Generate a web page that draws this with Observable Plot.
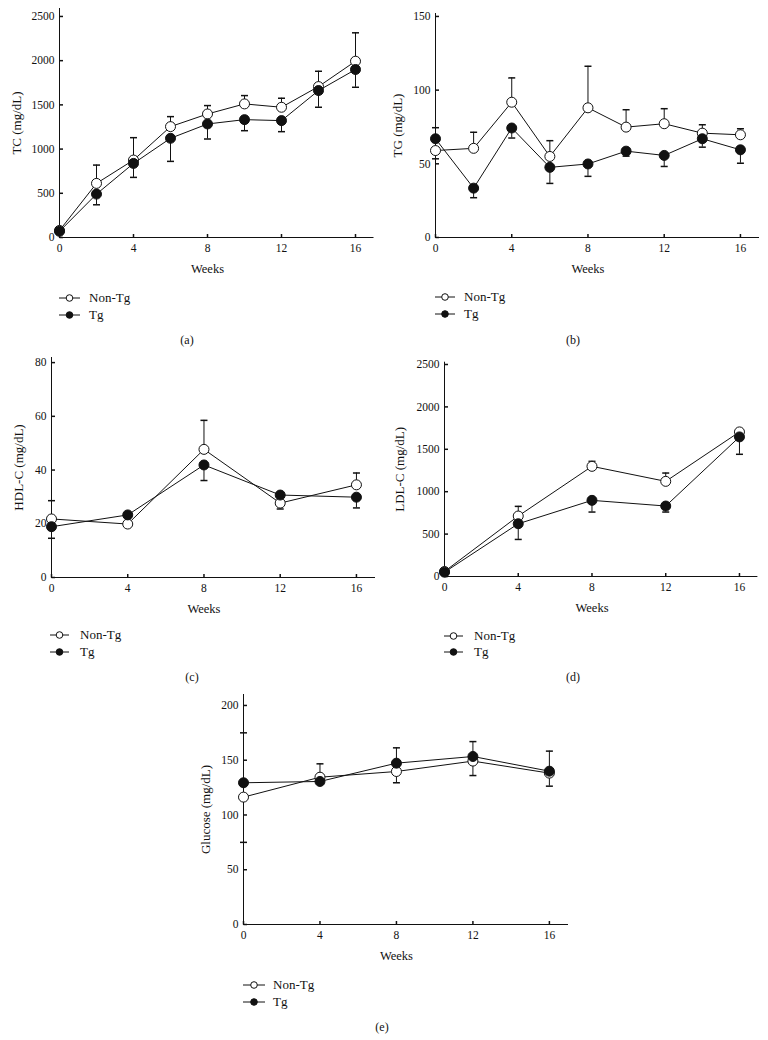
<!DOCTYPE html>
<html><head><meta charset="utf-8">
<script src="https://cdn.jsdelivr.net/npm/d3@7"></script>
<script src="https://cdn.jsdelivr.net/npm/@observablehq/plot@0.6"></script>
<style>
body{margin:0;background:#fff;}
#root{position:relative;width:768px;height:1040px;background:#fff;font-family:'Liberation Serif','Times New Roman',serif;color:#111;overflow:hidden;}
.leg{position:absolute;font-size:13px;white-space:nowrap;line-height:16px;}
.cap{position:absolute;font-size:12px;transform:translate(-50%,-50%);white-space:nowrap;}
</style></head><body><div id="root"></div><script>
// ---- data ----
const weeksTC = [0, 2, 4, 6, 8, 10, 12, 14, 16];
const weeks4 = [0, 4, 8, 12, 16];
const xTicks = [0, 4, 8, 12, 16];
const groups = ["Non-Tg", "Tg"];

const tcTicks = [0, 500, 1000, 1500, 2000, 2500];
const tcNonTg = [80, 612, 876, 1254, 1397, 1511, 1473, 1707, 1994];
const tcNonTgBar = [null, 819, 1129, 1367, 1492, 1605, 1575, 1880, 2315];
const tcTg = [70, 491, 838, 1122, 1284, 1333, 1322, 1662, 1900];
const tcTgBar = [null, 370, 680, 861, 1114, 1208, 1197, 1473, 1699];

const tgTicks = [0, 50, 100, 150];
const tgNonTg = [59, 60.5, 91.8, 55, 88, 74.9, 77.2, 70.8, 69.7];
const tgNonTgBar = [53.4, 71.4, 108.3, 65.7, 116.2, 86.7, 87.4, 76.5, 73.8];
const tgTg = [67, 33.5, 74.3, 47.6, 49.9, 58.6, 55.7, 67, 59.5];
const tgTgBar = [74.5, 27, 67.5, 36.7, 41.5, 55.2, 48.2, 61.3, 50.4];

const hdlTicks = [0, 20, 40, 60, 80];
const hdlNonTg = [21.8, 19.9, 47.7, 27.7, 34.5];
const hdlNonTgBar = [28.6, null, 58.5, null, 38.9];
const hdlTg = [18.9, 23.3, 41.9, 30.7, 29.9];
const hdlTgBar = [14.6, null, 36.1, 25.5, 25.9];

const ldlTicks = [0, 500, 1000, 1500, 2000, 2500];
const ldlNonTg = [59, 713, 1299, 1122, 1705];
const ldlNonTgBar = [null, 827, 1358, 1220, null];
const ldlTg = [51, 622, 898, 831, 1646];
const ldlTgBar = [null, 437, 760, 760, 1441];

const gluTicks = [0, 50, 100, 150, 200];
const gluNonTg = [116.3, 134.5, 139.7, 149.2, 138.2];
const gluNonTgBar = [75, 146.7, 129.4, 136, 126.3];
const gluTg = [129.4, 130.6, 147.3, 153.4, 140];
const gluTgBar = [175, null, 161.3, 167, 158.3];

// ---- drawing ----
const root = document.getElementById("root");
const ink = "#111";
const capSym = {draw(ctx) { ctx.moveTo(-3.5, 0); ctx.lineTo(3.5, 0); }};
const yTickSym = {draw(ctx) { ctx.moveTo(0, 0); ctx.lineTo(3.5, 0); }};
const xTickSym = {draw(ctx) { ctx.moveTo(0, 0); ctx.lineTo(0, -3.5); }};

function panel(c) {
  const rowsN = c.weeks.map((w, i) => ({week: w, value: c.nonTg[i], bar: c.nonTgBar[i], group: groups[0]}));
  const rowsT = c.weeks.map((w, i) => ({week: w, value: c.tg[i], bar: c.tgBar[i], group: groups[1]}));
  const barsN = rowsN.filter(d => d.bar != null);
  const barsT = rowsT.filter(d => d.bar != null);
  const svg = Plot.plot({
    width: c.width, height: c.height,
    marginLeft: c.ml, marginRight: c.mr, marginTop: c.mt, marginBottom: c.mb,
    x: {domain: [0, 17]},
    y: {domain: [0, c.yMax]},
    style: {fontFamily: "'Liberation Serif','Times New Roman',serif", fontSize: "11.5px", color: ink, background: "transparent", overflow: "visible"},
    marks: [
      Plot.ruleX([0], {stroke: ink}),
      Plot.ruleY([0], {stroke: ink}),
      Plot.dot(c.yTicks, {x: 0, y: d => d, symbol: yTickSym, stroke: ink, fill: "none"}),
      Plot.dot(xTicks, {x: d => d, y: 0, symbol: xTickSym, stroke: ink, fill: "none"}),
      Plot.axisY({ticks: c.yTicks, tickSize: 0, tickPadding: 5, label: null, tickFormat: "d"}),
      Plot.axisX({ticks: xTicks, tickSize: 0, tickPadding: 6, label: null, tickFormat: "d"}),
      Plot.text([c.label], {frameAnchor: "left", rotate: -90, dx: c.labelDx, textAnchor: "middle", lineAnchor: "middle", fontSize: 13}),
      Plot.text(["Weeks"], {x: d3.mean(d3.extent(c.weeks)), frameAnchor: "bottom", dy: 31, textAnchor: "middle", lineAnchor: "middle", fontSize: 12.5}),
      Plot.line(rowsN, {x: "week", y: "value", stroke: ink, strokeWidth: 1}),
      Plot.line(rowsT, {x: "week", y: "value", stroke: ink, strokeWidth: 1}),
      Plot.ruleX(barsN, {x: "week", y1: "value", y2: "bar", stroke: ink}),
      Plot.dot(barsN, {x: "week", y: "bar", symbol: capSym, stroke: ink, fill: "none"}),
      Plot.ruleX(barsT, {x: "week", y1: "value", y2: "bar", stroke: ink}),
      Plot.dot(barsT, {x: "week", y: "bar", symbol: capSym, stroke: ink, fill: "none"}),
      Plot.dot(rowsN, {x: "week", y: "value", r: 5, fill: "white", stroke: ink, strokeWidth: 1}),
      Plot.dot(rowsT, {x: "week", y: "value", r: 5, fill: ink, stroke: ink, strokeWidth: 1})
    ]
  });
  svg.style.position = "absolute";
  svg.style.left = c.left + "px";
  svg.style.top = c.top + "px";
  root.appendChild(svg);

  // legend
  groups.forEach((g, i) => {
    const y = c.legY[i];
    const s = document.createElementNS("http://www.w3.org/2000/svg", "svg");
    const w = c.legLine[1] - c.legLine[0] + 2;
    s.setAttribute("width", w); s.setAttribute("height", 10);
    s.style.position = "absolute";
    s.style.left = (c.legLine[0] - 1) + "px";
    s.style.top = (y - 5) + "px";
    s.innerHTML = `<line x1="1" x2="${w - 1}" y1="5" y2="5" stroke="${ink}" stroke-width="1"/>` +
      `<circle cx="${w / 2}" cy="5" r="3.3" fill="${i === 0 ? "white" : ink}" stroke="${ink}" stroke-width="1"/>`;
    root.appendChild(s);
    const t = document.createElement("div");
    t.className = "leg";
    t.textContent = g;
    t.style.left = c.legText + "px";
    t.style.top = (y - 8) + "px";
    root.appendChild(t);
  });
  const cap = document.createElement("div");
  cap.className = "cap";
  cap.textContent = c.caption;
  cap.style.left = c.capXY[0] + "px";
  cap.style.top = c.capXY[1] + "px";
  root.appendChild(cap);
}

panel({left: 0, top: 0, width: 384, height: 280, ml: 59, mr: 10.5, mt: 8, mb: 43, yMax: 2590,
  yTicks: tcTicks, label: "TC (mg/dL)", labelDx: -43, weeks: weeksTC,
  nonTg: tcNonTg, nonTgBar: tcNonTgBar, tg: tcTg, tgBar: tcTgBar,
  legLine: [59, 80], legText: 89, legY: [298, 315], caption: "(a)", capXY: [187, 340]});

panel({left: 384, top: 0, width: 384, height: 280, ml: 51, mr: 9, mt: 13, mb: 43, yMax: 152,
  yTicks: tgTicks, label: "TG (mg/dL)", labelDx: -38, weeks: weeksTC,
  nonTg: tgNonTg, nonTgBar: tgNonTgBar, tg: tgTg, tgBar: tgTgBar,
  legLine: [435, 455], legText: 464, legY: [297, 314], caption: "(b)", capXY: [573, 340]});

panel({left: 0, top: 330, width: 384, height: 290, ml: 51, mr: 9, mt: 27, mb: 43, yMax: 81.9,
  yTicks: hdlTicks, label: "HDL-C (mg/dL)", labelDx: -33, weeks: weeks4,
  nonTg: hdlNonTg, nonTgBar: hdlNonTgBar, tg: hdlTg, tgBar: hdlTgBar,
  legLine: [50, 69], legText: 80, legY: [635, 652], caption: "(c)", capXY: [192, 677]});

panel({left: 384, top: 330, width: 384, height: 289, ml: 60, mr: 10.6, mt: 31.7, mb: 43, yMax: 2527,
  yTicks: ldlTicks, label: "LDL-C (mg/dL)", labelDx: -45, weeks: weeks4,
  nonTg: ldlNonTg, nonTgBar: ldlNonTgBar, tg: ldlTg, tgBar: ldlTgBar,
  legLine: [444, 463], legText: 474, legY: [636, 652], caption: "(d)", capXY: [573, 677]});

panel({left: 180, top: 660, width: 400, height: 307, ml: 63, mr: 12, mt: 34, mb: 43, yMax: 210,
  yTicks: gluTicks, label: "Glucose (mg/dL)", labelDx: -38, weeks: weeks4,
  nonTg: gluNonTg, nonTgBar: gluNonTgBar, tg: gluTg, tgBar: gluTgBar,
  legLine: [243, 265], legText: 273, legY: [985, 1002], caption: "(e)", capXY: [382, 1027]});
</script></body></html>
